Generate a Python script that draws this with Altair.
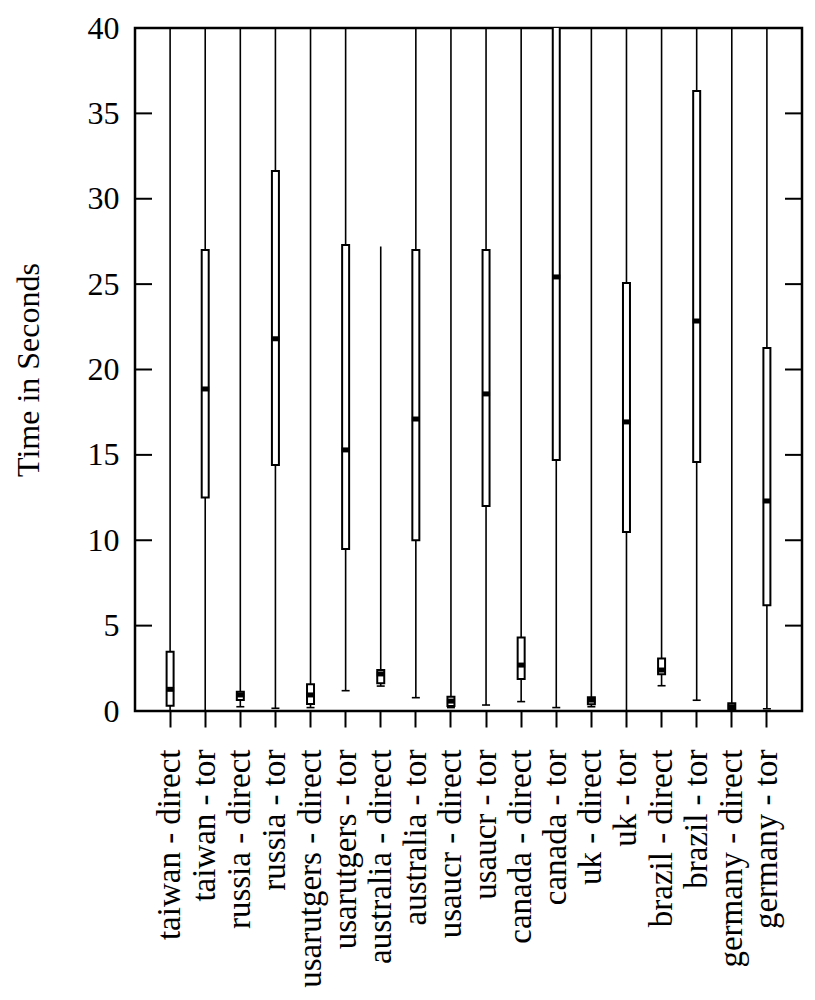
import altair as alt
import pandas as pd

categories = [
    "taiwan - direct", "taiwan - tor", "russia - direct", "russia - tor",
    "usarutgers - direct", "usarutgers - tor", "australia - direct", "australia - tor",
    "usaucr - direct", "usaucr - tor", "canada - direct", "canada - tor",
    "uk - direct", "uk - tor", "brazil - direct", "brazil - tor",
    "germany - direct", "germany - tor",
]
whisker_lo = [0.0, 0.0, 0.25, 0.16, 0.2, 1.19, 1.46, 0.78, 0.2, 0.35, 0.55, 0.2, 0.25, 0.0, 1.48, 0.63, 0.0, 0.13]
q1 = [0.31, 12.5, 0.64, 14.4, 0.41, 9.49, 1.62, 10.0, 0.29, 12.0, 1.87, 14.7, 0.39, 10.48, 2.15, 14.58, 0.06, 6.2]
median = [1.27, 18.86, 0.94, 21.8, 0.94, 15.29, 2.17, 17.1, 0.58, 18.57, 2.69, 25.42, 0.64, 16.93, 2.4, 22.84, 0.25, 12.3]
q3 = [3.47, 27.0, 1.13, 31.63, 1.56, 27.29, 2.4, 27.0, 0.84, 27.0, 4.31, 45.0, 0.8, 25.07, 3.07, 36.31, 0.45, 21.26]
whisker_hi = [50, 50, 50, 50, 50, 50, 27.2, 50, 50, 50, 50, 50, 50, 50, 50, 50, 50, 50]
y_ticks = [0, 5, 10, 15, 20, 25, 30, 35, 40]

df = pd.DataFrame({
    "cat": categories, "lo": whisker_lo, "q1": q1, "med": median,
    "q3": q3, "hi": whisker_hi,
})
tick_df = pd.DataFrame({"v": y_ticks})

FONT = "Liberation Serif"
W, H = 667, 683

xenc = alt.X("cat:N", sort=categories, title=None,
             scale=alt.Scale(paddingInner=0, paddingOuter=0.5),
             axis=alt.Axis(labelAngle=-90, labelFontSize=33, labelFont=FONT,
                           labelColor="black", tickSize=16, tickWidth=2,
                           tickColor="black", labelPadding=22, domain=False,
                           labelOverlap=False, labelLimit=0))
yscale = alt.Scale(domain=[0, 40], nice=False, zero=True)
yaxis = alt.Axis(values=y_ticks, ticks=False, labelFontSize=32, labelFont=FONT,
                 labelColor="black", labelPadding=16, domain=False, grid=False,
                 title="Time in Seconds", titleFontSize=32, titleFont=FONT,
                 titleFontWeight="normal", titleColor="black", titlePadding=42)

base = alt.Chart(df)

whisk = base.mark_rule(color="black", strokeWidth=1.6, clip=True).encode(
    x=xenc,
    y=alt.Y("lo:Q", scale=yscale, axis=yaxis),
    y2="hi:Q",
)
box = base.mark_bar(size=7, fill="white", stroke="black", strokeWidth=2,
                    opacity=1, clip=True).encode(
    x=alt.X("cat:N", sort=categories),
    y=alt.Y("q1:Q", scale=yscale),
    y2="q3:Q",
)
med = base.mark_tick(color="black", thickness=5, size=8, opacity=1, clip=True).encode(
    x=alt.X("cat:N", sort=categories),
    y=alt.Y("med:Q", scale=yscale),
)
cap = base.mark_tick(color="black", thickness=1.6, size=8, opacity=1, clip=True).encode(
    x=alt.X("cat:N", sort=categories),
    y=alt.Y("lo:Q", scale=yscale),
)
left_ticks = alt.Chart(tick_df).mark_rule(color="black", strokeWidth=2).encode(
    x=alt.value(0), x2=alt.value(17),
    y=alt.Y("v:Q", scale=yscale),
)
right_ticks = alt.Chart(tick_df).mark_rule(color="black", strokeWidth=2).encode(
    x=alt.value(W - 17), x2=alt.value(W),
    y=alt.Y("v:Q", scale=yscale),
)

chart = alt.layer(whisk, box, med, cap, left_ticks, right_ticks).properties(
    width=W, height=H,
    background="white",
    autosize=alt.AutoSizeParams(type="none"),
    padding={"left": 127, "top": 20, "right": 5, "bottom": 282},
).configure_view(
    stroke="black", strokeWidth=2.5, fill="white"
)

chart.save("out.html", embed_options={"renderer": "svg", "actions": False})
